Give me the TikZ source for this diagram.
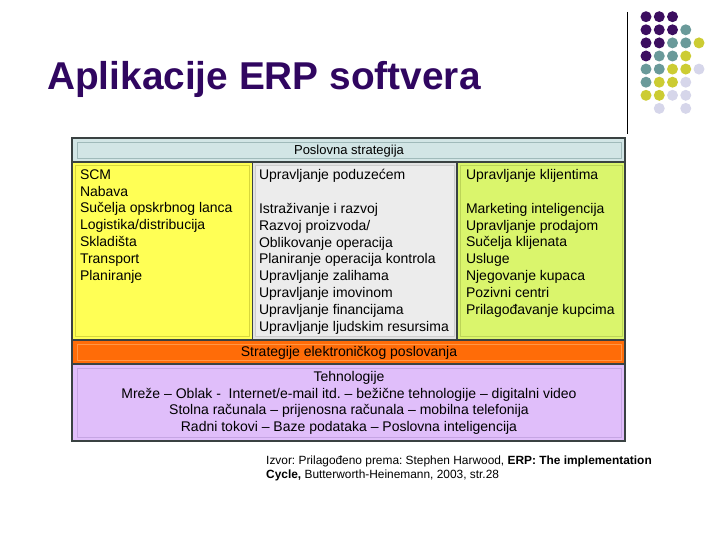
\documentclass[tikz,border=0pt]{standalone}
\usepackage{fontspec}
\setmainfont{Liberation Sans}
\frenchspacing
\definecolor{titlecol}{RGB}{48,6,96}
\definecolor{dotP}{RGB}{60,14,96}
\definecolor{dotT}{RGB}{106,154,154}
\definecolor{dotY}{RGB}{204,204,51}
\definecolor{dotL}{RGB}{214,214,234}
\definecolor{psfill}{RGB}{210,229,229}
\definecolor{psin}{RGB}{160,186,186}
\definecolor{yel}{RGB}{255,255,85}
\definecolor{yelin}{RGB}{215,215,60}
\definecolor{gry}{RGB}{226,226,226}
\definecolor{gryin}{RGB}{236,236,236}
\definecolor{gryedge}{RGB}{205,205,205}
\definecolor{grn}{RGB}{218,245,108}
\definecolor{grnin}{RGB}{188,212,88}
\definecolor{org}{RGB}{255,108,8}
\definecolor{orgin}{RGB}{255,150,70}
\definecolor{pur}{RGB}{224,190,250}
\definecolor{purin}{RGB}{198,165,228}
\definecolor{frame}{RGB}{58,66,66}
\tikzset{
  band/.style={draw=frame, line width=1.2pt, inner sep=0pt, outer sep=0pt},
  inband/.style={line width=0.9pt},
  body/.style={inner sep=0pt, outer sep=0pt, font=\fontsize{14}{16.8}\selectfont},
  colt/.style={body, align=left, anchor=north west},
  dot/.style={circle, inner sep=0pt, minimum size=11pt},
}
\begin{document}
\begin{tikzpicture}[x=1pt,y=-1pt]
\useasboundingbox (0,0) rectangle (720,540);
% title
\node[anchor=base west, inner sep=0pt, text=titlecol, font=\bfseries\fontsize{38.8}{46}\selectfont] (title) at (47,89.5) {Aplikacije ERP softvera};
% vertical rule
\coordinate (vt) at (627,12);
\coordinate (vb) at (627,134);
\draw[line width=0.9pt] (vt) -- (vb);
% dots
\foreach \r/\cs in {0/{P,P,P}, 1/{P,P,P,T}, 2/{P,P,T,T,Y}, 3/{P,T,T,Y}, 4/{T,T,Y,Y,L}, 5/{T,Y,Y,L}, 6/{Y,Y,L,L}, 7/{N,L,N,L}}{
  \foreach \c [count=\i from 0] in \cs {
    \if N\c\else
      \node[dot, fill=dot\c] (d\r\i) at ({646+13.25*\i},{16.7+13.1*\r}) {};
    \fi
  }
}
% bands
\node[band, fill=psfill, minimum width=553pt, minimum height=24pt, anchor=north west] (ps) at (72,138) {};
\draw[inband, draw=psin] ([xshift=5pt,yshift=-4pt]ps.north west) rectangle ([xshift=-4pt,yshift=4pt]ps.south east);
\node[body, font=\fontsize{13}{15}\selectfont] (pst) at (349,151) {Poslovna strategija};

\node[band, fill=yel, minimum width=180.5pt, minimum height=178pt, anchor=north west] (c1) at (72,162) {};
\node[band, fill=gry, minimum width=204.5pt, minimum height=178pt, anchor=north west] (c2) at (252.5,162) {};
\node[band, fill=grn, minimum width=168pt, minimum height=178pt, anchor=north west] (c3) at (457,162) {};
\draw[inband, draw=yelin] ([xshift=3pt,yshift=-3pt]c1.north west) rectangle ([xshift=-3pt,yshift=4pt]c1.south east);
\draw[inband, draw=gryedge, fill=gryin] ([xshift=3pt,yshift=-3pt]c2.north west) rectangle ([xshift=-3pt,yshift=4pt]c2.south east);
\draw[inband, draw=grnin] ([xshift=3pt,yshift=-3pt]c3.north west) rectangle ([xshift=-3pt,yshift=4pt]c3.south east);

\node[colt] (t1) at (80,169.5) {SCM\\Nabava\\Sučelja opskrbnog lanca\\Logistika/distribucija\\Skladišta\\Transport\\Planiranje};
\node[colt] (t2) at (259,169.5) {Upravljanje poduzećem\\[16.8pt]Istraživanje i razvoj\\Razvoj proizvoda/\\Oblikovanje operacija\\Planiranje operacija kontrola\\Upravljanje zalihama\\Upravljanje imovinom\\Upravljanje financijama\\Upravljanje ljudskim resursima};
\node[colt] (t3) at (466,169.5) {Upravljanje klijentima\\[16.8pt]Marketing inteligencija\\Upravljanje prodajom\\Sučelja klijenata\\Usluge\\Njegovanje kupaca\\Pozivni centri\\Prilagođavanje kupcima};

\node[band, fill=org, minimum width=553pt, minimum height=24pt, anchor=north west] (es) at (72,340) {};
\draw[inband, draw=orgin] ([xshift=5pt,yshift=-4pt]es.north west) rectangle ([xshift=-4pt,yshift=4pt]es.south east);
\node[body] (est) at (349,353) {Strategije elektroničkog poslovanja};

\node[band, fill=pur, minimum width=553pt, minimum height=77pt, anchor=north west] (te) at (72,364) {};
\draw[inband, draw=purin] ([xshift=5pt,yshift=-4pt]te.north west) rectangle ([xshift=-4pt,yshift=4pt]te.south east);
\node[body, align=center, anchor=north, font=\fontsize{14}{16.9}\selectfont] (tet) at (349,371) {Tehnologije\\Mreže – Oblak -\ \ Internet/e-mail itd. – bežične tehnologije – digitalni video\\Stolna računala – prijenosna računala – mobilna telefonija\\Radni tokovi – Baze podataka – Poslovna inteligencija};

% source
\node[inner sep=0pt, align=left, anchor=north west, font=\fontsize{11.9}{14.2}\selectfont] (src) at (266,455.5) {Izvor: Prilagođeno prema: Stephen Harwood, \textbf{ERP: The implementation}\\\textbf{Cycle,} Butterworth-Heinemann, 2003, str.28};
\end{tikzpicture}
\end{document}
